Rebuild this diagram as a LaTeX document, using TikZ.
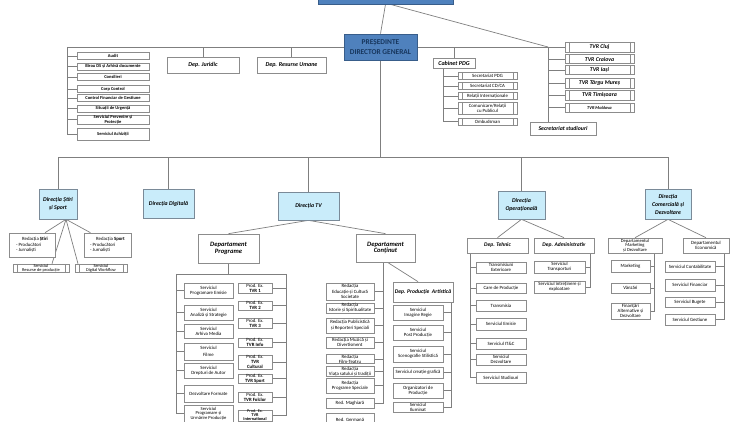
\documentclass[tikz,border=0pt]{standalone}
\usepackage{fontspec}
\setmainfont{Carlito}
\usetikzlibrary{backgrounds}

\definecolor{pdgblue}{HTML}{4F81BD}
\definecolor{pdgborder}{HTML}{385D8A}
\definecolor{pdgtext}{HTML}{17365D}
\definecolor{dirfill}{HTML}{C9ECFA}
\definecolor{dirborder}{HTML}{7A8A98}
\definecolor{boxborder}{HTML}{8C8C8C}
\definecolor{linegray}{HTML}{7F7F7F}

\tikzset{
	wh/.style 2 args={
		minimum width=#1pt,
		minimum height=#2pt
	}
}

\begin{document}
\begin{tikzpicture}[
			x=1pt, y=-1pt,
			conn/.style={
				draw=linegray,
				line width=0.7pt
			},
			svc/.style={
				draw=boxborder,
				fill=white,
				line width=0.6pt,
				inner sep=0pt,
				align=center,
				font=\fontsize{4.8}{5.2}\selectfont
			},
			listbox/.style={
				svc,
				font=\fontsize{4.5}{5}\selectfont\bfseries
			},
			pproc/.style={
				svc,
				path picture={
					\draw[boxborder, line width=0.5pt]
					([xshift=4pt]path picture bounding box.north west) --
					([xshift=4pt]path picture bounding box.south west)
					([xshift=-4pt]path picture bounding box.north east) --
					([xshift=-4pt]path picture bounding box.south east);
				}
			},
			regbox/.style={
				pproc,
				font=\fontsize{5.8}{6}\selectfont\bfseries\itshape
			},
			dept/.style={
				draw=boxborder,
				fill=white,
				line width=0.7pt,
				inner sep=0pt,
				align=center,
				font=\fontsize{6}{6.5}\selectfont\bfseries\itshape
			},
			direction/.style={
				dept,
				draw=dirborder,
				fill=dirfill,
				font=\fontsize{5.8}{8}\selectfont\bfseries\itshape
			},
			head/.style={
				draw=pdgborder,
				fill=pdgblue,
				line width=0.8pt,
				inner sep=0pt,
				align=center,
				text=pdgtext,
				font=\fontsize{7.4}{10}\selectfont\bfseries
			}
			]
			\useasboundingbox (0,0) rectangle (750,422);

			% Conducere
			\node[head, wh={135}{24}] (tvrtop) at (385.5,-8) {};
			\node[head, wh={73}{26}] (pdg) at (380.5,47) {PREȘEDINTE\\DIRECTOR GENERAL};

			\coordinate (lbus) at (67,47);
			\coordinate (rbus) at (548,47);
			\coordinate (cbus) at (443,68);
			\coordinate (dbar) at (0,157);

			% Structuri în subordinea directă
			\node[listbox, wh={72}{7}] (audit) at (113,56.3) {Audit};
			\node[listbox, wh={72}{7}] (birou) at (113,66.6) {Birou DS și Arhivă documente};
			\node[listbox, wh={72}{6.5}] (consilieri) at (113,77) {Consilieri};
			\node[listbox, wh={72}{6.5}] (corp) at (113,89) {Corp Control};
			\node[listbox, wh={72}{7}] (cfg) at (113,98.3) {Control Financiar de Gestiune};
			\node[listbox, wh={72}{6.5}] (urgenta) at (113,108.7) {Situații de Urgență};
			\node[listbox, wh={72}{9.5}] (prevenire) at (113,119.7) {Serviciul Prevenire și\\Protecție};
			\node[listbox, wh={72}{12}] (achizitii) at (113,134) {Serviciul Achiziții};

			\node[dept, wh={72}{16}] (juridic) at (203,65) {Dep. Juridic};
			\node[dept, wh={69}{16}] (resurse) at (291.5,65) {Dep. Resurse Umane};
			\node[dept, wh={42}{10}] (cabinet) at (454,63) {Cabinet PDG};

			\node[pproc, wh={59}{7}] (secpdg) at (487.5,76) {Secretariat PDG};
			\node[pproc, wh={59}{7}] (seccd) at (487.5,86) {Secretariat CD/CA};
			\node[pproc, wh={59}{7}] (relint) at (487.5,96) {Relații Internaționale};
			\node[pproc, wh={59}{12}] (comrel) at (487.5,108) {Comunicare/Relații\\cu Publicul};
			\node[pproc, wh={59}{7}] (ombud) at (487.5,121.5) {Ombudsman};

			% Studiouri teritoriale
			\node[regbox, wh={69}{10}] (cluj) at (599.5,47) {TVR Cluj};
			\node[regbox, wh={69}{9}] (craiova) at (599.5,59) {TVR Craiova};
			\node[regbox, wh={69}{9}] (iasi) at (599.5,70) {TVR Iași};
			\node[regbox, wh={69}{10}] (mures) at (599.5,83) {TVR Târgu Mureș};
			\node[regbox, wh={69}{10}] (timis) at (599.5,95) {TVR Timișoara};
			\node[regbox, wh={69}{9}, font=\fontsize{4.4}{5}\selectfont\bfseries\itshape] (moldova) at (599.5,107.5) {TVR Moldova};
			\node[dept, wh={66}{13}, font=\fontsize{5.8}{6}\selectfont\bfseries\itshape] (secstud) at (563,128.5) {Secretariat studiouri};

			% Direcții
			\node[direction, wh={38}{30}] (stiri) at (58,204) {Direcția Știri\\și Sport};
			\node[direction, wh={51}{29}] (digital) at (168.5,203.5) {Direcția Digitală};
			\node[direction, wh={61}{28}] (dtv) at (308.5,206) {Direcția TV};
			\node[direction, wh={47}{28}] (oper) at (521.5,205) {Direcția\\Operațională};
			\node[direction, wh={46}{30}] (com) at (668,204) {Direcția\\Comercială și\\Dezvoltare};

			% Direcția Știri și Sport
			\node[svc, wh={46}{24}, align=left] (redstiri) at (32,245) {\hspace*{6pt}Redacția \textbf{Știri}\\[1pt]- Producători\\- Jurnaliști};
			\node[svc, wh={47}{24}, align=left] (redsport) at (107.5,245) {\hspace*{6pt}Redacția \textbf{Sport}\\[1pt]- Producători\\- Jurnaliști};
			\node[pproc, wh={56}{8}, font=\fontsize{4.4}{4}\selectfont] (resprod) at (41,268) {Serviciul\\Resurse de producție};
			\node[pproc, wh={52}{8}, font=\fontsize{4.4}{4}\selectfont] (digwf) at (101,268) {Serviciul\\Digital Workflow};

			% Direcția TV
			\node[dept, wh={61}{29}, font=\fontsize{6.6}{6.6}\selectfont\bfseries\itshape] (progr) at (228.5,248.5) {Departament\\Programe};
			\node[dept, wh={59}{28}, font=\fontsize{6.6}{6.6}\selectfont\bfseries\itshape] (contin) at (385.5,248) {Departament\\Conținut};

			\coordinate (pl) at (176,274);
			\coordinate (pr) at (286,274);

			\node[svc, wh={49}{15}] (pemis) at (208.5,290.5) {Serviciul\\Programare Emisie};
			\node[svc, wh={49}{15}] (panal) at (208.5,312.5) {Serviciul\\Analiză și Strategie};
			\node[svc, wh={49}{14}] (parh) at (208.5,331) {Serviciul\\Arhiva Media};
			\node[svc, wh={49}{17}] (pfilme) at (208.5,351.5) {Serviciul\\[2pt]Filme};
			\node[svc, wh={49}{15}] (pdrept) at (208.5,370.5) {Serviciul\\Drepturi de Autor};
			\node[svc, wh={49}{17}] (pformat) at (208.5,393.5) {Dezvoltare Formate};
			\node[svc, wh={49}{17}, font=\fontsize{4.6}{4.6}\selectfont] (purm) at (208.5,413.5) {Serviciul\\Programare și\\Urmărire Producție};

			\node[svc, wh={34}{10}] (ptvr1) at (255,288) {Prod. Ex.\\\textbf{TVR 1}};
			\node[svc, wh={34}{9}] (ptvr2) at (255,305.5) {Prod. Ex.\\\textbf{TVR 2}};
			\node[svc, wh={34}{10}] (ptvr3) at (255,323) {Prod. Ex.\\\textbf{TVR 3}};
			\node[svc, wh={34}{9}] (pinfo) at (255,342.5) {Prod. Ex.\\\textbf{TVR Info}};
			\node[svc, wh={34}{13}] (pcult) at (255,362) {Prod. Ex.\\\textbf{TVR}\\\textbf{Cultural}};
			\node[svc, wh={34}{9}] (psport) at (255,378.5) {Prod. Ex.\\\textbf{TVR Sport}};
			\node[svc, wh={34}{10}] (pfolc) at (255,397) {Prod. Ex.\\\textbf{TVR Folclor}};
			\node[svc, wh={34}{11}, font=\fontsize{4.3}{4}\selectfont] (pintl) at (255,415.5) {Prod. Ex.\\\textbf{TVR}\\\textbf{International}};

			\coordinate (cl) at (383,262);

			\node[svc, wh={48}{17}] (redcult) at (350,291.5) {Redacția\\Educație și Cultură\\Societate};
			\node[svc, wh={48}{10}] (redist) at (350,308) {Redacția\\Istorie și Spiritualitate};
			\node[svc, wh={48}{15}] (redpub) at (350,325.5) {Redacția Publicistică\\[1pt]și Reporteri Speciali};
			\node[svc, wh={48}{11}] (redmuz) at (350,342.5) {Redacția Muzică și\\Divertisment};
			\node[svc, wh={48}{8}] (redfilm) at (350,359) {Redacția\\Film-Teatru};
			\node[svc, wh={48}{9}] (redsat) at (350,371.5) {Redacția\\Viața satului și tradiții};
			\node[svc, wh={48}{15}] (redspec) at (350,385.5) {Redacția\\Programe Speciale};
			\node[svc, wh={48}{10}] (redmagh) at (350,403) {Red. Maghiară};
			\node[svc, wh={48}{13}] (redgerm) at (350,419.5) {Red. Germană};

			\node[dept, wh={60}{20}, font=\fontsize{5.6}{6}\selectfont\bfseries\itshape] (prodart) at (423,292) {Dep. Producție\ \ Artistică};
			\coordinate (cr) at (451,302);

			\node[svc, wh={50}{15}] (imreg) at (418,312.5) {Serviciul\\Imagine Regie};
			\node[svc, wh={50}{15}] (postp) at (418,332.5) {Serviciul\\Post Producție};
			\node[svc, wh={50}{16}] (scen) at (418,354) {Serviciul\\Scenografie Stilistică};
			\node[svc, wh={50}{11}] (graf) at (418,372.5) {Serviciul creație grafică};
			\node[svc, wh={50}{15}] (orgp) at (418,390.5) {Organizatori de\\Producție};
			\node[svc, wh={50}{10}] (ilum) at (418,407) {Serviciul\\Iluminat};

			% Direcția Operațională
			\node[dept, wh={61}{15}, font=\fontsize{5.5}{6}\selectfont\bfseries\itshape] (tehnic) at (497.5,245.5) {Dep. Tehnic};
			\node[dept, wh={60}{15}, font=\fontsize{5.5}{6}\selectfont\bfseries\itshape] (admin) at (564,245.5) {Dep. Administrativ};

			\coordinate (tl) at (470,253);
			\coordinate (ar) at (590,253);

			\node[svc, wh={50}{11}] (trext) at (501,267.5) {Transmisiuni\\Exterioare};
			\node[svc, wh={50}{10}] (carep) at (501,288) {Care de Producție};
			\node[svc, wh={50}{11}] (transm) at (501,305.5) {Transmisia};
			\node[svc, wh={50}{12}] (emis) at (501,324) {Serviciul Emisie};
			\node[svc, wh={50}{11}] (itc) at (501,343.5) {Serviciul IT\&C};
			\node[svc, wh={50}{11}] (dezv) at (501,359.5) {Serviciul\\Dezvoltare};
			\node[svc, wh={50}{11}] (stud) at (501,377.5) {Serviciul Studiouri};

			\node[svc, wh={51}{12}] (transp) at (559.5,267) {Serviciul\\Transporturi};
			\node[svc, wh={51}{12}] (intr) at (559.5,287) {Serviciul întreținere și\\exploatare};

			% Direcția Comercială și Dezvoltare
			\node[svc, wh={54}{15}, font=\fontsize{4.6}{4.4}\selectfont] (mkt) at (635,245.5) {Departamentul\\Marketing\\și Dezvoltare};
			\node[svc, wh={46}{15}] (econ) at (706,245.5) {Departamentul\\Economică};

			\coordinate (ml) at (654,253);
			\coordinate (er) at (724,253);

			\node[svc, wh={39}{12}] (mark) at (630.5,266) {Marketing};
			\node[svc, wh={39}{10}] (vanz) at (630.5,288) {Vânzări};
			\node[svc, wh={39}{16}] (finalt) at (630.5,311) {Finanțări\\Alternative și\\Dezvoltare};

			\node[svc, wh={50}{11}] (contab) at (690,266.5) {Serviciul Contabilitate};
			\node[svc, wh={50}{12}] (finan) at (690,285) {Serviciul Financiar};
			\node[svc, wh={50}{10}] (buget) at (690,302) {Serviciul Bugete};
			\node[svc, wh={50}{11}] (gest) at (690,319.5) {Serviciul Gestiune};

			% Legături
			\begin{pgfonlayer}{background}
				\draw[conn] (tvrtop.south) -- (pdg.north);
				\draw[conn] ([xshift=5pt]tvrtop.south) -- (rbus);
				\draw[conn] (lbus) -- (rbus);
				\draw[conn] (lbus) |- (audit.west) (lbus) |- (birou.west)
					(lbus) |- (consilieri.west) (lbus) |- (corp.west)
					(lbus) |- (cfg.west) (lbus) |- (urgenta.west)
					(lbus) |- (prevenire.west) (lbus) |- (achizitii.west);
				\draw[conn] (juridic.north) -- (juridic.north |- lbus)
					(resurse.north) -- (resurse.north |- lbus)
					(cabinet.north) -- (cabinet.north |- lbus);
				\draw[conn] (cbus) |- (secpdg.west) (cbus) |- (seccd.west)
					(cbus) |- (relint.west) (cbus) |- (comrel.west)
					(cbus) |- (ombud.west);
				\draw[conn] (rbus) |- (cluj.west) (rbus) |- (craiova.west)
					(rbus) |- (iasi.west) (rbus) |- (mures.west)
					(rbus) |- (timis.west) (rbus) |- (moldova.west)
					(rbus) -- (rbus |- secstud.north);

				\draw[conn] (pdg.south) -- (pdg.south |- dbar);
				\draw[conn] (stiri.north |- dbar) -- (com.north |- dbar);
				\draw[conn] (stiri.north) -- (stiri.north |- dbar)
					(digital.north) -- (digital.north |- dbar)
					(dtv.north) -- (dtv.north |- dbar)
					(oper.north) -- (oper.north |- dbar)
					(com.north) -- (com.north |- dbar);

				\draw[conn] ([xshift=8pt]stiri.south) -- ([xshift=13pt]redstiri.north)
					([xshift=8pt]stiri.south) -- ([xshift=-17pt]redsport.north)
					([xshift=8pt]stiri.south) -- ([xshift=11pt]resprod.north)
					([xshift=8pt]stiri.south) -- ([xshift=-23pt]digwf.north);

				\draw[conn] (dtv.south) -- (progr.north) (dtv.south) -- (contin.north);
				\draw[conn] (progr.south) -- (progr.south |- pl) (pl) -- (pr);
				\draw[conn] (pl) |- (pemis.west) (pl) |- (panal.west)
					(pl) |- (parh.west) (pl) |- (pfilme.west)
					(pl) |- (pdrept.west) (pl) |- (pformat.west)
					(pl) |- (purm.west);
				\draw[conn] (pr) |- (ptvr1.east) (pr) |- (ptvr2.east)
					(pr) |- (ptvr3.east) (pr) |- (pinfo.east)
					(pr) |- (pcult.east) (pr) |- (psport.east)
					(pr) |- (pfolc.east) (pr) |- (pintl.east);

				\draw[conn] (cl) |- (redcult.east) (cl) |- (redist.east)
					(cl) |- (redpub.east) (cl) |- (redmuz.east)
					(cl) |- (redfilm.east) (cl) |- (redsat.east)
					(cl) |- (redspec.east) (cl) |- (redmagh.east);
				\draw[conn] ([xshift=2pt]contin.south) -- ([xshift=-5pt]prodart.north);
				\draw[conn] (cr) |- (imreg.east) (cr) |- (postp.east)
					(cr) |- (scen.east) (cr) |- (graf.east)
					(cr) |- (orgp.east) (cr) |- (ilum.east);

				\draw[conn] (oper.south) -- (tehnic.north) (oper.south) -- (admin.north);
				\draw[conn] (tl) |- (trext.west) (tl) |- (carep.west)
					(tl) |- (transm.west) (tl) |- (emis.west)
					(tl) |- (itc.west) (tl) |- (dezv.west)
					(tl) |- (stud.west);
				\draw[conn] (ar) |- (transp.east) (ar) |- (intr.east);

				\draw[conn] (com.south) -- (mkt.north) (com.south) -- (econ.north);
				\draw[conn] (ml) |- (mark.east) (ml) |- (vanz.east) (ml) |- (finalt.east);
				\draw[conn] (er) |- (contab.east) (er) |- (finan.east)
					(er) |- (buget.east) (er) |- (gest.east);
			\end{pgfonlayer}

		\end{tikzpicture}
\end{document}
